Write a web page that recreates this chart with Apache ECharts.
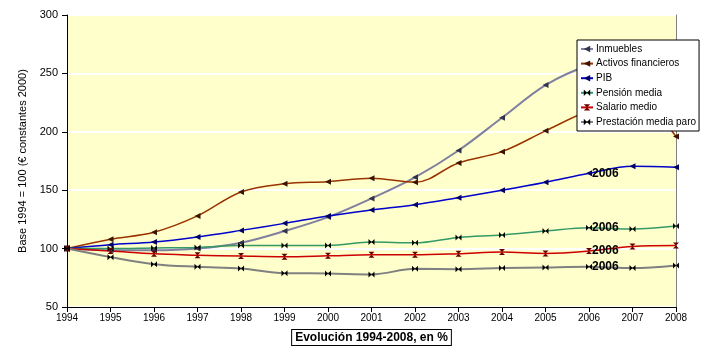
<!DOCTYPE html>
<html><head><meta charset="utf-8">
<script src="https://cdn.jsdelivr.net/npm/echarts@6/dist/echarts.min.js"></script>
<style>html,body{margin:0;padding:0;background:#fff}#c{width:701px;height:359px}</style>
</head><body><div id="c"></div>
<script>
const years = ['1994','1995','1996','1997','1998','1999','2000','2001','2002','2003','2004','2005','2006','2007','2008'];
const yTicks = [50, 100, 150, 200, 250, 300];
const inmuebles = [100, 98.5, 98.5, 100, 105, 115, 127, 143, 161, 184, 212, 240, 257, 265, 262];
const activos = [100, 108, 114, 128, 148.5, 155.5, 157.3, 160.2, 156.8, 173.3, 183, 200.8, 218, 228, 196];
const pib = [100, 103.3, 105.6, 110, 115.6, 121.6, 127.9, 133, 137.6, 143.6, 149.9, 156.8, 164.5, 170.5, 169.6];
const pension = [100, 100, 100.5, 101, 102.7, 102.7, 102.7, 105.6, 105, 109.6, 111.6, 115, 117.8, 116.7, 119.3];
const salario = [100, 98, 95.5, 94.4, 93.6, 93, 93.8, 94.7, 94.7, 95.6, 97, 95.9, 97.9, 101.9, 102.7];
const paro = [100, 92.7, 86.7, 84.4, 83, 79, 78.7, 77.9, 82.7, 82.4, 83.3, 83.9, 84.4, 83.3, 85.6];
const names = ['Inmuebles', 'Activos financieros', 'PIB', 'Pensión media', 'Salario medio', 'Prestación media paro'];
const labelYear = '2006';

const TRI = 'path://M0,5L10,0L10,10Z';
const BOW = 'path://M0,0L10,10L10,0L0,10Z';
const HOUR = 'path://M0,0L10,0L0,10L10,10Z';

function mk(name, data, color, sym, symColor, width, withLabel) {
  return {
    name: name, type: 'line', data: data, smooth: 0.35,
    symbol: sym, symbolSize: [6, 6], showAllSymbol: true,
    lineStyle: { color: color, width: width },
    itemStyle: { color: symColor, borderWidth: 0 },
    color: color,
    label: {
      show: withLabel, position: 'right', distance: 0,
      formatter: p => (p.name === labelYear ? labelYear : ''),
      color: '#000', fontWeight: 'bold', fontSize: 12, fontFamily: 'Liberation Sans, Arial, sans-serif'
    },
    emphasis: { disabled: true }, animation: false, z: 2
  };
}

const chart = echarts.init(document.getElementById('c'), null, { renderer: 'canvas' });
chart.setOption({
  animation: false,
  textStyle: { fontFamily: 'Liberation Sans, Arial, sans-serif' },
  grid: { left: 67, right: 25, top: 15, bottom: 52, show: true, backgroundColor: '#ffffcc', borderWidth: 0 },
  legend: {
    orient: 'vertical', left: 577, top: 40,
    padding: [4, 3, 4, 3], itemGap: 4.6, itemWidth: 12, itemHeight: 8,
    backgroundColor: '#ffffff', borderColor: '#000', borderWidth: 1, borderRadius: 0,
    textStyle: { fontSize: 10, color: '#000', padding: [0, 0, 0, -2] },
    data: names, z: 10
  },
  xAxis: {
    type: 'category', data: years, boundaryGap: false,
    axisLine: { lineStyle: { color: '#000', width: 1 } },
    axisTick: { show: true, length: 5, alignWithLabel: true, lineStyle: { color: '#000' } },
    axisLabel: { fontSize: 10, color: '#000', margin: 6, interval: 0 },
    name: 'Evolución 1994-2008, en %', nameLocation: 'middle', nameGap: 23,
    nameTextStyle: { fontSize: 12, fontWeight: 'bold', color: '#000', borderColor: '#000', borderWidth: 1, padding: [2, 3, 1, 3], backgroundColor: '#fff' }
  },
  yAxis: [{
    type: 'value', min: 50, max: 300, interval: 50,
    axisLine: { show: true, lineStyle: { color: '#000', width: 1 } },
    axisTick: { show: true, length: 5, lineStyle: { color: '#000' } },
    axisLabel: { fontSize: 11, color: '#000', margin: 9, formatter: v => (yTicks.includes(v) ? String(v) : '') },
    splitLine: { show: true, lineStyle: { color: '#ffffff', width: 2 } },
    name: 'Base 1994 = 100 (€ constantes 2000)', nameLocation: 'middle', nameGap: 39,
    nameTextStyle: { fontSize: 11, color: '#000' }
  }, {
    type: 'value', min: 50, max: 300, interval: 50, position: 'right',
    axisLine: { show: true, lineStyle: { color: '#808080', width: 1 } },
    axisTick: { show: false }, axisLabel: { show: false }, splitLine: { show: false }
  }],
  series: [
    mk(names[0], inmuebles, '#7f7f9f', TRI, '#33334d', 2, false),
    mk(names[1], activos, '#993300', TRI, '#3d1400', 1.5, false),
    mk(names[2], pib, '#0000cc', TRI, '#000066', 1.5, true),
    mk(names[3], pension, '#339966', BOW, '#000000', 1.5, true),
    mk(names[4], salario, '#cc0000', HOUR, '#660000', 1.5, true),
    mk(names[5], paro, '#808080', BOW, '#000000', 2, true)
  ]
});
</script>
</body></html>
